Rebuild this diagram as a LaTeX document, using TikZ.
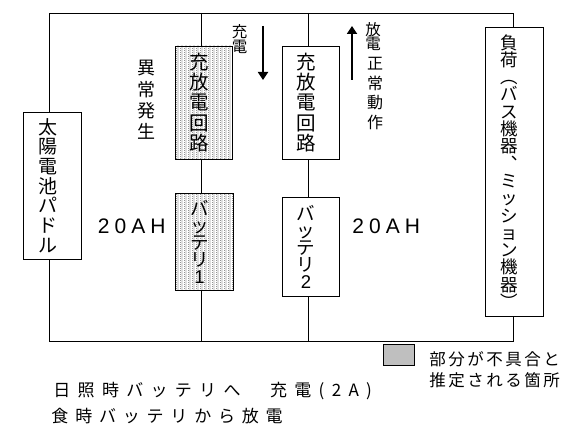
\documentclass[tikz,border=0pt]{standalone}
\usepackage{fontspec}
\newfontfamily\jp{Noto Sans CJK JP}
\newfontfamily\lat{Liberation Sans}
\usetikzlibrary{patterns,arrows.meta}
\lineskiplimit=-50pt
\makeatletter
\newcommand\trk[2]{\@tfor\trk@c:=#2\do{\trk@c\hspace{#1}}}
\makeatother
\newcommand\sh{\kern9pt}
\pgfdeclarepatternformonly{stipple}{\pgfpointorigin}{\pgfpoint{4pt}{2pt}}{\pgfpoint{4pt}{2pt}}{%
  \pgfpathrectangle{\pgfpoint{0pt}{0pt}}{\pgfpoint{0.9pt}{0.9pt}}%
  \pgfpathrectangle{\pgfpoint{2pt}{1pt}}{\pgfpoint{0.9pt}{0.9pt}}%
  \pgfusepath{fill}}
\begin{document}
\begin{tikzpicture}[x=1pt,y=-1pt,line width=0.9pt,
  box/.style={draw,inner sep=0pt,align=center},
  shaded/.style={box,pattern=stipple},
  vtext/.style={inner sep=0pt,align=center},
  wire/.style={line width=0.9pt},
  bigarrow/.style={line width=1.8pt,-{Triangle[width=10pt,length=8pt]}},
  ahlabel/.style={inner sep=0pt,anchor=base west,font=\lat\fontsize{21}{21}\selectfont},
  noteline/.style={inner sep=0pt,anchor=west}]
\useasboundingbox (0,0) rectangle (569,435);
% boxes
\node[box,minimum width=58pt,minimum height=147pt,font=\jp\fontsize{19}{19.7}\selectfont] (solar) at (52,185.5) {太\sh\\陽\sh\\電\sh\\池\sh\\パ\sh\\ド\sh\\ル\sh};
\node[shaded,minimum width=57pt,minimum height=113pt,font=\jp\fontsize{19.5}{20.4}\selectfont] (cc1) at (203.5,102.5) {充\sh\\放\sh\\電\sh\\回\sh\\路\sh};
\node[shaded,minimum width=58pt,minimum height=97pt,font=\jp\fontsize{18.5}{17}\selectfont] (bat1) at (204,242) {バ\sh\\ッ\sh\\テ\sh\\リ\sh\\{\lat 1}\sh};
\node[box,minimum width=57pt,minimum height=113pt,font=\jp\fontsize{19.5}{20.4}\selectfont] (cc2) at (310.5,102.5) {充\sh\\放\sh\\電\sh\\回\sh\\路\sh};
\node[box,minimum width=57pt,minimum height=99pt,font=\jp\fontsize{18.5}{17}\selectfont] (bat2) at (310.5,246.5) {バ\sh\\ッ\sh\\テ\sh\\リ\sh\\{\lat 2}\sh};
\node[box,minimum width=58pt,minimum height=289pt,font=\jp\fontsize{17.5}{17.3}\selectfont] (load) at (514,171.5) {負\sh\\荷\sh\\︵\sh\\バ\sh\\ス\sh\\機\sh\\器\sh\\︑\sh\\ミ\sh\\ッ\sh\\シ\sh\\ョ\sh\\ン\sh\\機\sh\\器\sh\\︶\sh};
% wire corners
\coordinate (tl) at (49,13);
\coordinate (tr) at (513,13);
\coordinate (bl) at (49,341);
\coordinate (br) at (513,341);
\coordinate (c1t) at (201,13);
\coordinate (c1b) at (201,341);
\coordinate (c2t) at (308,13);
\coordinate (c2b) at (308,341);
\draw[wire] (solar.north -| tl) -- (tl) -- (tr) -- (load.north -| tr);
\draw[wire] (solar.south -| bl) -- (bl) -- (br) -- (load.south -| br);
\draw[wire] (c1t) -- (cc1.north -| c1t);
\draw[wire] (cc1.south -| c1t) -- (bat1.north -| c1t);
\draw[wire] (bat1.south -| c1b) -- (c1b);
\draw[wire] (c2t) -- (cc2.north -| c2t);
\draw[wire] (cc2.south -| c2t) -- (bat2.north -| c2t);
\draw[wire] (bat2.south -| c2b) -- (c2b);
% arrows
\coordinate (a1s) at (263,26);
\coordinate (a1e) at (263,80);
\coordinate (a2s) at (352,80);
\coordinate (a2e) at (352,26);
\draw[bigarrow] (a1s) -- (a1e);
\draw[bigarrow] (a2s) -- (a2e);
% labels
\node[vtext,font=\jp\fontsize{18}{21.3}\selectfont] (abn) at (146,100) {異\\常\\発\\生};
\node[vtext,font=\jp\fontsize{15.5}{14.5}\selectfont] (chg) at (239.5,39) {充\\電};
\node[vtext,font=\jp\fontsize{15.5}{14.5}\selectfont] (dis) at (373,36.5) {放\\電};
\node[vtext,font=\jp\fontsize{16}{19.7}\selectfont] (norm) at (375,93.5) {正\\常\\動\\作};
\node[ahlabel] (ah1) at (97.5,234) {\trk{5pt}{20AH}};
\node[ahlabel] (ah2) at (352,234) {\trk{5pt}{20AH}};
% legend
\node[draw,inner sep=0pt,minimum width=31pt,minimum height=21pt,fill=black!25] (legbox) at (398.5,354.5) {};
\node[noteline,font=\jp\fontsize{16.5}{16.5}\selectfont] (leg1) at (429,359.5) {\trk{2.5pt}{部分が不具合と}};
\node[noteline,font=\jp\fontsize{16.5}{16.5}\selectfont] (leg2) at (429,380.5) {\trk{2.5pt}{推定される箇所}};
% bottom notes
\node[noteline,font=\jp\fontsize{17}{17}\selectfont] (note1) at (53,391) {\trk{7.3pt}{日照時バッテリへ{\hspace{15pt}}充電(2A)}};
\node[noteline,font=\jp\fontsize{17}{17}\selectfont] (note2) at (51,416.5) {\trk{6.8pt}{食時バッテリから放電}};
\end{tikzpicture}
\end{document}
